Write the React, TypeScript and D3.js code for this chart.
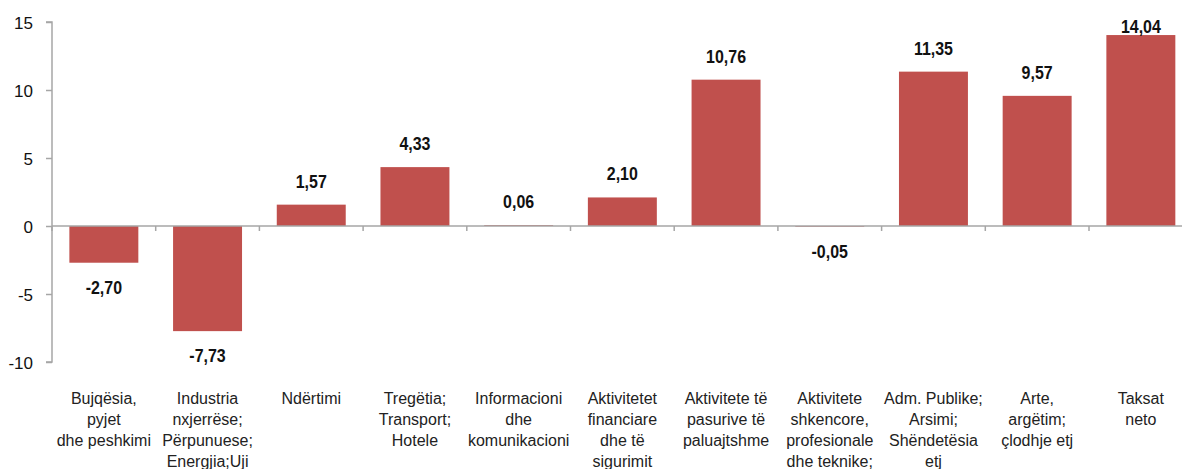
import React, { useRef, useEffect } from 'react';
import * as d3 from 'd3';

// kategorite (rreshtat e etiketes)
const categories: string[][] = [
  ['Bujqësia,', 'pyjet', 'dhe peshkimi'],
  ['Industria', 'nxjerrëse;', 'Përpunuese;', 'Energjia;Uji'],
  ['Ndërtimi'],
  ['Tregëtia;', 'Transport;', 'Hotele'],
  ['Informacioni', 'dhe', 'komunikacioni'],
  ['Aktivitetet', 'financiare', 'dhe të', 'sigurimit'],
  ['Aktivitete të', 'pasurive të', 'paluajtshme'],
  ['Aktivitete', 'shkencore,', 'profesionale', 'dhe teknike;'],
  ['Adm. Publike;', 'Arsimi;', 'Shëndetësia', 'etj'],
  ['Arte,', 'argëtim;', 'çlodhje etj'],
  ['Taksat', 'neto'],
];

const values: number[] = [-2.70, -7.73, 1.57, 4.33, 0.06, 2.10, 10.76, -0.05, 11.35, 9.57, 14.04];

const yTicks: number[] = [-10, -5, 0, 5, 10, 15];

const App = () => {
  const ref = useRef<SVGSVGElement>(null);

  useEffect(() => {
    const width = 1182;
    const left = 52, top = 22, bottom = 362;
    const step = 103.7;

    const svg = d3.select(ref.current);
    svg.selectAll('*').remove();

    const ids = categories.map((c, i) => String(i));

    const x = d3.scaleBand()
      .domain(ids)
      .range([left, left + step * ids.length])
      .paddingInner(0.335)
      .paddingOuter(0.1675);

    const y = d3.scaleLinear().domain([-10, 15]).range([bottom, top]);

    const axisColor = '#a6a6a6';
    const fmt = (d: number) => d3.format('.2f')(d).replace('.', ',').replace('\u2212', '-');

    // bars
    svg.append('g')
      .selectAll('rect')
      .data(values)
      .enter().append('rect')
      .attr('x', (d, i) => x(String(i)))
      .attr('width', x.bandwidth())
      .attr('y', d => y(Math.max(0, d)))
      .attr('height', d => Math.abs(y(d) - y(0)))
      .attr('fill', '#c0504d');

    // y axis
    const yAxis = svg.append('g')
      .attr('transform', 'translate(' + left + ',0)')
      .call(d3.axisLeft(y).tickValues(yTicks).tickSize(6).tickPadding(13)
        .tickFormat(d => String(d)));
    yAxis.select('.domain').attr('stroke', axisColor).attr('stroke-width', 1.5)
      .attr('d', 'M-6,' + y(15) + 'H0V' + y(-10) + 'H-6');
    yAxis.selectAll('.tick line').attr('stroke', axisColor).attr('stroke-width', 1.5);
    yAxis.selectAll('.tick text')
      .attr('fill', '#111')
      .attr('font-size', 17)
      .attr('font-family', '"Liberation Sans", Arial, sans-serif')
      .attr('dy', '0.36em');

    // category axis at zero
    const zeroY = y(0);
    svg.append('line')
      .attr('x1', left).attr('x2', width + 20)
      .attr('y1', zeroY).attr('y2', zeroY)
      .attr('stroke', axisColor).attr('stroke-width', 1.5);

    svg.append('g')
      .selectAll('line')
      .data(ids)
      .enter().append('line')
      .attr('x1', (d, i) => left + step * i)
      .attr('x2', (d, i) => left + step * i)
      .attr('y1', zeroY)
      .attr('y2', zeroY + 5)
      .attr('stroke', axisColor).attr('stroke-width', 1.5);

    // value labels (narrow bold)
    const labels = svg.append('g')
      .selectAll('text')
      .data(values)
      .enter().append('text')
      .attr('x', (d, i) => (x(String(i)) as number) + x.bandwidth() / 2)
      .attr('y', d => d >= 0 ? Math.max(y(d) - 17, 33) : y(d) + 31)
      .attr('text-anchor', 'middle')
      .attr('font-family', '"Liberation Sans", Arial, sans-serif')
      .attr('font-weight', 'bold')
      .attr('font-size', 19)
      .attr('fill', '#111')
      .text(d => fmt(d));

    labels.each(function () {
      const el = this as SVGTextElement;
      const w = el.getComputedTextLength();
      d3.select(el).attr('textLength', w * 0.84).attr('lengthAdjust', 'spacingAndGlyphs');
    });

    // category labels
    const catG = svg.append('g')
      .selectAll('text')
      .data(categories)
      .enter().append('text')
      .attr('text-anchor', 'middle')
      .attr('font-family', '"Liberation Sans", Arial, sans-serif')
      .attr('font-size', 16)
      .attr('fill', '#222');

    catG.each(function (lines, i) {
      const t = d3.select(this);
      const cx = (x(String(i)) as number) + x.bandwidth() / 2;
      lines.forEach((line, j) => {
        t.append('tspan')
          .attr('x', cx)
          .attr('y', 404 + j * 21)
          .text(line);
      });
    });
  }, []);

  return (
    <svg
      ref={ref}
      width={1182}
      height={469}
      style={{ position: 'absolute', left: 0, top: 0, background: 'white' }}
    />
  );
};

export default App;
